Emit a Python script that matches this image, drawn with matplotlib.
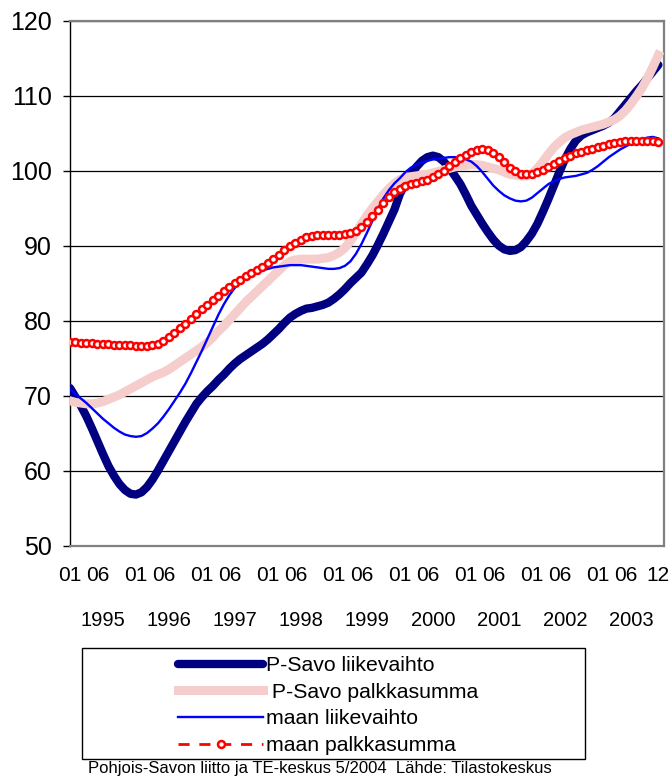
import matplotlib
matplotlib.use("Agg")
import matplotlib.pyplot as plt
from matplotlib.patches import Rectangle
import numpy as np

plt.rcParams['font.family'] = ['Liberation Sans', 'DejaVu Sans']

# monthly index values 1995/01 - 2003/12
psavo_liikevaihto = [
    71.0, 69.8, 68.6, 67.2, 65.6, 63.9, 62.2, 60.6, 59.3, 58.2, 57.4, 56.9,
    56.8, 57.1, 57.8, 58.8, 60.0, 61.3, 62.6, 63.9, 65.2, 66.5, 67.7, 68.9,
    69.8, 70.6, 71.3, 72.1, 72.8, 73.6, 74.3, 74.9, 75.4, 75.9, 76.4, 76.9,
    77.5, 78.2, 78.9, 79.7, 80.4, 80.9, 81.3, 81.6, 81.7, 81.9, 82.1, 82.4,
    82.9, 83.5, 84.2, 85.0, 85.7, 86.4, 87.5, 88.7, 90.1, 91.6, 93.2, 94.8,
    96.9, 98.3, 99.5, 100.5, 101.3, 101.8, 102.0, 101.8, 101.2, 100.3, 99.3, 98.2,
    96.8, 95.3, 94.1, 92.9, 91.8, 90.8, 90.0, 89.5, 89.3, 89.4, 89.8, 90.6,
    91.6, 92.9, 94.5, 96.2, 98.0, 99.8, 101.5, 102.9, 104.0, 104.7, 105.1, 105.4,
    105.7, 106.0, 106.4, 107.0, 107.9, 108.8, 109.7, 110.6, 111.4, 112.3, 113.2, 114.1,
]
psavo_palkkasumma = [
    69.3, 69.1, 69.0, 68.9, 68.9, 69.0, 69.2, 69.5, 69.8, 70.1, 70.5, 70.9,
    71.3, 71.7, 72.1, 72.5, 72.8, 73.1, 73.5, 74.0, 74.5, 75.0, 75.5, 76.0,
    76.5, 77.1, 77.8, 78.6, 79.3, 80.1, 80.9, 81.7, 82.5, 83.2, 83.9, 84.6,
    85.3, 86.0, 86.7, 87.4, 87.9, 88.1, 88.2, 88.2, 88.2, 88.2, 88.3, 88.4,
    88.7, 89.1, 89.7, 90.6, 91.7, 92.9, 94.0, 95.0, 95.9, 96.8, 97.6, 98.3,
    98.8, 99.1, 99.2, 99.3, 99.4, 99.5, 99.7, 99.9, 100.1, 100.3, 100.5, 100.6,
    100.7, 100.8, 100.8, 100.7, 100.5, 100.3, 100.1, 99.8, 99.5, 99.4, 99.3, 99.3,
    99.6, 100.3, 101.2, 102.2, 103.1, 103.8, 104.4, 104.8, 105.1, 105.4, 105.6, 105.8,
    106.0, 106.2, 106.5, 106.8, 107.3, 108.0, 108.9, 109.9, 111.0, 112.3, 113.8, 115.4,
]
maan_liikevaihto = [
    70.8, 70.2, 69.6, 69.0, 68.3, 67.6, 66.9, 66.3, 65.7, 65.2, 64.8, 64.6,
    64.5, 64.6, 65.0, 65.6, 66.3, 67.2, 68.2, 69.3, 70.4, 71.6, 73.0, 74.5,
    76.0, 77.6, 79.2, 80.8, 82.2, 83.4, 84.4, 85.1, 85.6, 86.0, 86.4, 86.7,
    86.9, 87.1, 87.2, 87.3, 87.4, 87.4, 87.4, 87.3, 87.2, 87.1, 87.0, 86.9,
    86.9, 87.0, 87.3, 87.9, 88.9, 90.2, 91.7, 93.3, 94.9, 96.3, 97.4, 98.3,
    99.0, 99.8, 100.4, 100.8, 101.1, 101.3, 101.5, 101.6, 101.7, 101.8, 101.8, 101.7,
    101.5, 101.2, 100.6, 99.8, 98.9, 98.0, 97.3, 96.7, 96.3, 96.0, 95.9, 96.0,
    96.4, 97.0, 97.6, 98.2, 98.6, 98.9, 99.1, 99.2, 99.3, 99.5, 99.7, 100.1,
    100.6, 101.2, 101.8, 102.3, 102.8, 103.2, 103.6, 103.9, 104.2, 104.4, 104.5, 104.3,
]
maan_palkkasumma = [
    77.1, 77.1, 77.0, 77.0, 77.0, 76.9, 76.9, 76.9, 76.8, 76.8, 76.7, 76.7,
    76.6, 76.6, 76.6, 76.7, 76.9, 77.3, 77.8, 78.4, 79.0, 79.6, 80.2, 80.9,
    81.5, 82.1, 82.7, 83.3, 83.9, 84.5, 85.0, 85.4, 85.9, 86.3, 86.7, 87.2,
    87.7, 88.2, 88.8, 89.4, 89.9, 90.4, 90.8, 91.1, 91.3, 91.4, 91.4, 91.4,
    91.4, 91.4, 91.5, 91.7, 92.0, 92.5, 93.1, 93.9, 94.8, 95.7, 96.5, 97.1,
    97.6, 97.9, 98.2, 98.4, 98.6, 98.8, 99.1, 99.5, 100.0, 100.6, 101.2, 101.7,
    102.1, 102.5, 102.8, 102.9, 102.8, 102.4, 101.8, 101.1, 100.4, 99.9, 99.6, 99.5,
    99.6, 99.8, 100.1, 100.5, 100.9, 101.3, 101.7, 102.0, 102.3, 102.5, 102.7, 102.9,
    103.1, 103.3, 103.5, 103.7, 103.8, 103.9, 103.9, 103.9, 103.9, 103.9, 103.9, 103.8,
]
years = ['1995', '1996', '1997', '1998', '1999', '2000', '2001', '2002', '2003']
labels = ['P-Savo liikevaihto', ' P-Savo palkkasumma', 'maan liikevaihto', 'maan palkkasumma']

months = np.arange(len(psavo_liikevaihto))

fig = plt.figure(figsize=(6.71, 7.78), dpi=100)
ax = fig.add_axes([0.1043, 0.2988, 0.885, 0.6746])

l1, = ax.plot(months, psavo_liikevaihto, color='#000080', lw=6, solid_capstyle='round', zorder=3)
l2, = ax.plot(months, psavo_palkkasumma, color='#f6cdcd', lw=6.5, zorder=4)
l3, = ax.plot(months, maan_liikevaihto, color='#0000ff', lw=1.7, zorder=5)
l4, = ax.plot(months, maan_palkkasumma, color='#ff0000', lw=2, ls=(0, (4, 3.5)),
              marker='o', ms=5, mfc='white', mec='#ff0000', mew=1.8, zorder=6)

ax.set_xlim(0, 108)
ax.set_ylim(50, 120)
ax.set_yticks(range(50, 121, 10))
ax.tick_params(axis='y', labelsize=18, length=5, width=1, pad=8, direction='out')

xt, xl = [], []
for i in range(len(years)):
    xt += [12 * i, 12 * i + 5]
    xl += ['01', '06']
xt.append(len(months) - 1)
xl.append('12')
ax.set_xticks(xt)
ax.set_xticklabels(xl)
ax.set_xticks(range(0, 109, 12), minor=True)
ax.tick_params(axis='x', which='both', length=0, labelsize=15, pad=15)

ax.grid(True, axis='y', which='major', color='black', lw=0.9)
ax.grid(True, axis='x', which='minor', color='black', lw=0.8)
ax.set_axisbelow(True)

for i, y in enumerate(years):
    ax.text(12 * i + 6, -0.143, y, transform=ax.get_xaxis_transform(),
            ha='center', va='center', fontsize=14.5)

for s in ['top', 'right', 'bottom']:
    ax.spines[s].set_color('#808080')
    ax.spines[s].set_linewidth(1.6)
ax.spines['left'].set_color('black')
ax.spines['left'].set_linewidth(1.0)

# legend box
fig.patches.append(Rectangle((82 / 671, 1 - 759 / 778), 503 / 671, 111 / 778,
                             transform=fig.transFigure, fill=False, ec='black', lw=1))
fig.legend([l1, l2, l3, l4], labels, loc='upper left',
           bbox_to_anchor=(178 / 671, 1 - 656 / 778), frameon=False,
           fontsize=15.3, handlelength=4.0, handletextpad=0.15,
           labelspacing=0.36, borderpad=0, borderaxespad=0, numpoints=1)

fig.text(88 / 671, 1 - 768 / 778,
         'Pohjois-Savon liitto ja TE-keskus 5/2004  Lähde: Tilastokeskus',
         fontsize=12, ha='left', va='center')

fig.savefig('out.png', dpi=100)
